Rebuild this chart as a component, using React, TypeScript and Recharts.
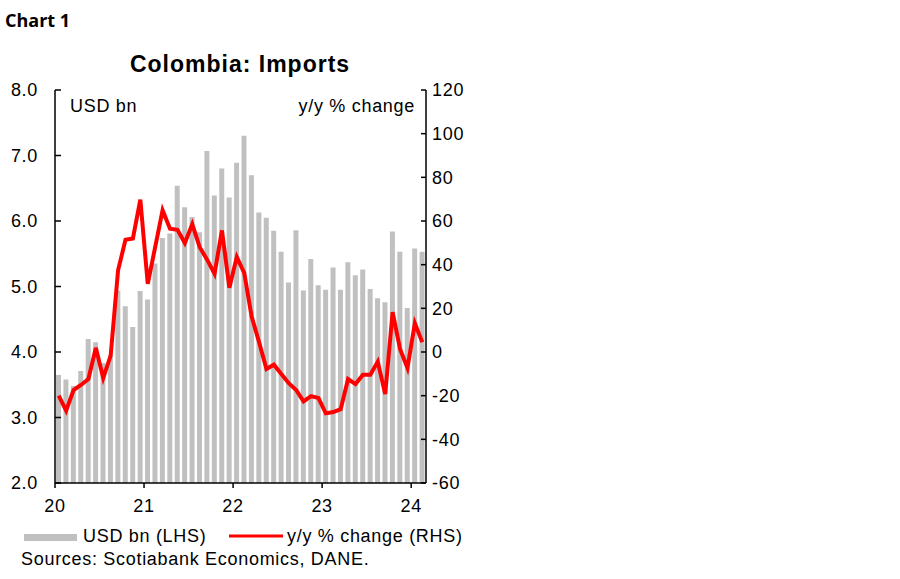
import { Bar, ComposedChart, Line, XAxis, YAxis } from "recharts";

// monthly, Jan 2020 - Feb 2024
const yearLabels = ["20", "21", "22", "23", "24"];
const usdBn = [
  3.65, 3.58, 3.48, 3.71, 4.2, 4.15, 3.83, 3.95, 4.94, 4.7, 4.38, 4.93,
  4.8, 5.35, 5.74, 5.81, 6.54, 6.21, 6.06, 5.83, 7.07, 6.39, 6.8, 6.36,
  6.89, 7.3, 6.7, 6.13, 6.05, 5.85, 5.53, 5.06, 5.86, 4.94, 5.42, 5.02,
  4.95, 5.29, 4.95, 5.37, 5.17, 5.26, 4.96, 4.82, 4.76, 5.84, 5.53, 4.67,
  5.58, 5.53,
];
const yoyChange = [
  -20.0, -26.9, -17.4, -15.1, -12.4, 1.9, -11.9, -1.7, 37.4, 51.4, 52.0, 69.8,
  31.2, 48.0, 64.9, 56.5, 56.0, 49.9, 58.5, 48.0, 42.3, 35.8, 55.7, 29.4,
  43.5, 36.2, 16.2, 4.5, -7.8, -5.8, -10.1, -14.3, -17.4, -22.6, -20.2, -21.1,
  -28.1, -27.5, -26.2, -12.4, -14.7, -10.4, -10.4, -4.4, -19.3, 18.2, 1.4, -7.3,
  13.2, 4.5,
];
const leftTicks = [2, 3, 4, 5, 6, 7, 8];
const rightTicks = [-60, -40, -20, 0, 20, 40, 60, 80, 100, 120];
const yearTicks = [0, 12, 24, 36, 48];

const data = usdBn.map((v, i) => ({ x: i + 0.5, usd: v, yoy: yoyChange[i] }));

const FONT = '"Liberation Sans", Arial, sans-serif';
const SP = 0.7;

function LeftTick({ x, y, payload }: any) {
  return (
    <g>
      <line x1={x} x2={x + 6} y1={y} y2={y} stroke="#000" strokeWidth={1.5} />
      <text x={x - 17} y={y} dy="0.36em" textAnchor="end" fontSize={18} letterSpacing={SP} fontFamily={FONT} fill="#000">
        {Number(payload.value).toFixed(1)}
      </text>
    </g>
  );
}

function RightTick({ x, y, payload }: any) {
  return (
    <g>
      <line x1={x - 5} x2={x} y1={y} y2={y} stroke="#000" strokeWidth={1.5} />
      <text x={x + 6} y={y} dy="0.36em" textAnchor="start" fontSize={18} letterSpacing={SP} fontFamily={FONT} fill="#000">
        {payload.value}
      </text>
    </g>
  );
}

function BottomTick({ x, y, payload }: any) {
  return (
    <g>
      <line x1={x} x2={x} y1={y} y2={y + 5} stroke="#000" strokeWidth={1.5} />
      <text x={x} y={y + 29} textAnchor="middle" fontSize={18} letterSpacing={SP} fontFamily={FONT} fill="#000">
        {yearLabels[yearTicks.indexOf(payload.value)]}
      </text>
    </g>
  );
}

export default function App() {
  return (
    <div style={{ position: "absolute", left: 0, top: 0, width: 900, height: 579, background: "#fff" }}>
      <ComposedChart
        width={480}
        height={579}
        data={data}
        margin={{ top: 90, right: 0, bottom: 66, left: 0 }}
      >
        <XAxis
          dataKey="x"
          type="number"
          domain={[0, 50]}
          ticks={yearTicks}
          tickSize={0}
          tickMargin={0}
          tickLine={false}
          tick={<BottomTick />}
          axisLine={{ stroke: "#000", strokeWidth: 1.5 }}
          height={30}
          interval={0}
        />
        <YAxis
          yAxisId="left"
          domain={[2, 8]}
          ticks={leftTicks}
          width={55}
          tickSize={0}
          tickMargin={0}
          tickLine={false}
          tick={<LeftTick />}
          axisLine={{ stroke: "#000", strokeWidth: 1.5 }}
          interval={0}
        />
        <YAxis
          yAxisId="right"
          orientation="right"
          domain={[-60, 120]}
          ticks={rightTicks}
          width={54}
          tickSize={0}
          tickMargin={0}
          tickLine={false}
          tick={<RightTick />}
          axisLine={{ stroke: "#000", strokeWidth: 1.5 }}
          interval={0}
        />
        <Bar yAxisId="left" dataKey="usd" fill="#c0c0c0" barSize={5} isAnimationActive={false} />
        <Line
          yAxisId="right"
          dataKey="yoy"
          type="linear"
          stroke="#ff0000"
          strokeWidth={4}
          dot={false}
          activeDot={false}
          isAnimationActive={false}
        />
      </ComposedChart>
      <svg width={900} height={579} style={{ position: "absolute", left: 0, top: 0, pointerEvents: "none" }}>
        <text x={5} y={27} fontFamily='"Open Sans", sans-serif' fontWeight={700} fontSize={18} fill="#000">
          Chart 1
        </text>
        <text x={240} y={72} textAnchor="middle" fontFamily={FONT} fontWeight={700} fontSize={23} letterSpacing={1} fill="#000">
          Colombia: Imports
        </text>
        <text x={70} y={112} fontFamily={FONT} fontSize={18} letterSpacing={SP} fill="#000">USD bn</text>
        <text x={415} y={112} textAnchor="end" fontFamily={FONT} fontSize={18} letterSpacing={SP} fill="#000">y/y % change</text>
        <rect x={24} y={534} width={53} height={7} fill="#c0c0c0" />
        <text x={83} y={542} fontFamily={FONT} fontSize={18} letterSpacing={SP} fill="#000">USD bn (LHS)</text>
        <line x1={229} x2={283} y1={536} y2={536} stroke="#ff0000" strokeWidth={3} />
        <text x={287} y={542} fontFamily={FONT} fontSize={18} letterSpacing={SP} fill="#000">y/y % change (RHS)</text>
        <text x={21} y={565} fontFamily={FONT} fontSize={18} letterSpacing={SP} fill="#000">Sources: Scotiabank Economics, DANE.</text>
      </svg>
    </div>
  );
}
